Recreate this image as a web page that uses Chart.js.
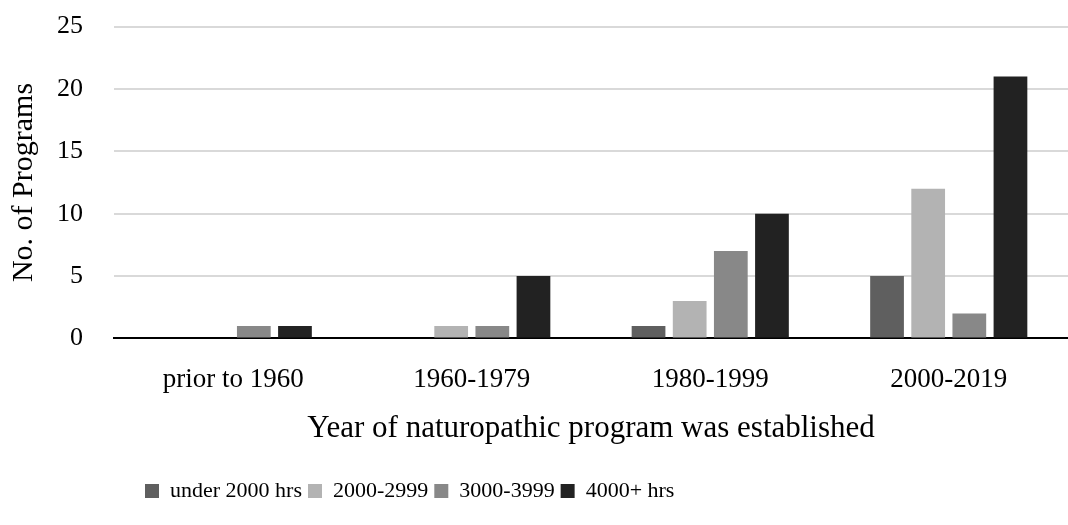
<!DOCTYPE html>
<html lang="en">
<head>
  <meta charset="UTF-8" />
  <title>Naturopathic Programs</title>
  <script src="https://cdn.jsdelivr.net/npm/chart.js"></script>
  <style>
    body {
      margin: 0;
      background: #ffffff;
    }

    .chart-container {
      width: 1068px;
      height: 525px;
    }
  </style>
</head>
<body>

  <div class="chart-container">
    <canvas id="programChart"></canvas>
  </div>

  <script>
    const categories = ['prior to 1960', '1960-1979', '1980-1999', '2000-2019'];
    const seriesNames = ['under 2000 hrs', '2000-2999', '3000-3999', '4000+ hrs'];
    const under2000 = [0, 0, 1, 5];
    const hrs2000to2999 = [0, 1, 3, 12];
    const hrs3000to3999 = [1, 1, 7, 2];
    const hrs4000plus = [1, 5, 10, 21];
    const yTicks = [0, 5, 10, 15, 20, 25];

    const colors = ['#5f5f5f', '#b3b3b3', '#888888', '#222222'];
    const seriesValues = [under2000, hrs2000to2999, hrs3000to3999, hrs4000plus];

    const fontFamily = "'Liberation Serif', 'DejaVu Serif', serif";

    // the legend in the original sits left of centre, start it at a fixed x
    const legendShift = {
      id: 'legendShift',
      beforeDraw(chart) {
        chart.legend.left = 139;
      }
    };

    const ctx = document.getElementById('programChart').getContext('2d');

    const programChart = new Chart(ctx, {
      type: 'bar',
      data: {
        labels: categories,
        datasets: seriesNames.map((name, i) => ({
          label: name,
          data: seriesValues[i],
          backgroundColor: colors[i],
          borderWidth: 0,
          categoryPercentage: 0.69,
          barPercentage: 0.82
        }))
      },
      plugins: [legendShift],
      options: {
        responsive: true,
        maintainAspectRatio: false,
        animation: false,
        layout: {
          padding: { top: 0, right: 0, left: 0, bottom: 13 }
        },
        plugins: {
          legend: {
            position: 'bottom',
            align: 'start',
            labels: {
              color: '#000',
              boxWidth: 14,
              boxHeight: 14,
              padding: 6,
              font: { family: fontFamily, size: 22 }
            }
          },
          tooltip: { enabled: false }
        },
        scales: {
          x: {
            grid: { display: false, drawTicks: false },
            border: { display: true, color: '#000', width: 2 },
            ticks: {
              color: '#000',
              padding: 25,
              font: { family: fontFamily, size: 27 }
            },
            title: {
              display: true,
              text: 'Year of naturopathic program was established',
              color: '#000',
              padding: { top: -11, bottom: 27 },
              font: { family: fontFamily, size: 31 }
            }
          },
          y: {
            min: 0,
            max: 25,
            afterBuildTicks: (axis) => {
              axis.ticks = yTicks.map(v => ({ value: v }));
            },
            grid: {
              color: '#d9d9d9',
              lineWidth: 2,
              drawTicks: true,
              tickLength: 20,
              tickColor: 'rgba(0,0,0,0)'
            },
            border: { display: false },
            ticks: {
              color: '#000',
              padding: 11,
              font: { family: fontFamily, size: 26 }
            },
            title: {
              display: true,
              text: 'No. of Programs',
              color: '#000',
              padding: { top: 6, bottom: 4 },
              font: { family: fontFamily, size: 30 }
            }
          }
        }
      }
    });
  </script>
</body>
</html>
